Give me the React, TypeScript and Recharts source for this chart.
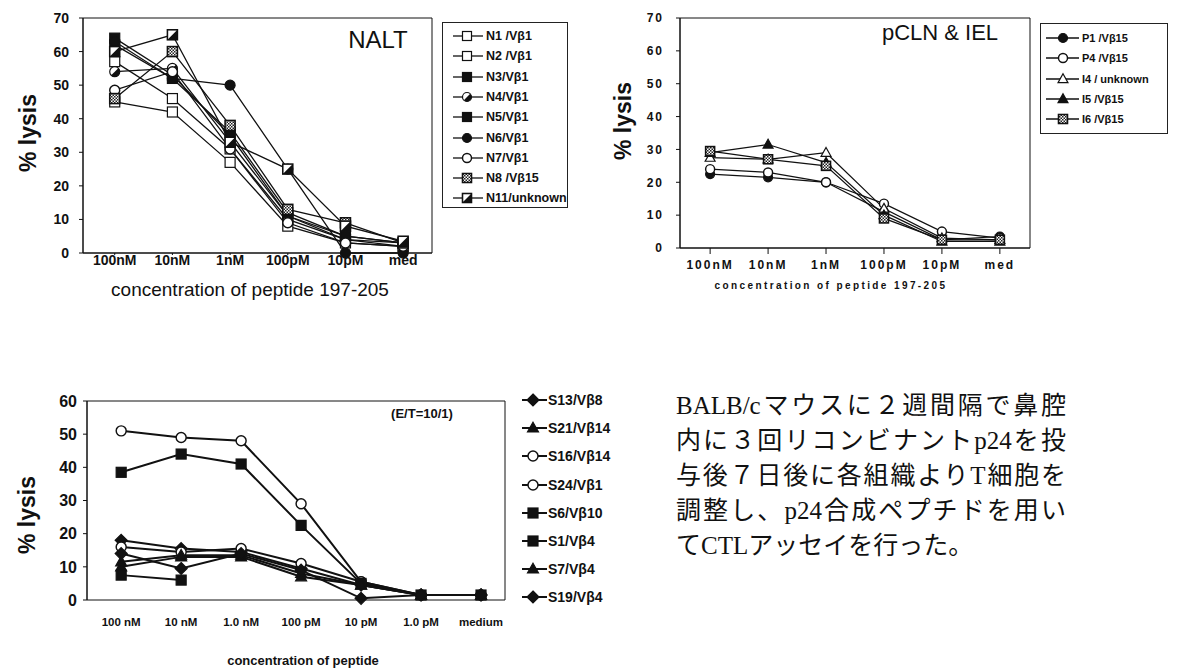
import React from "react";
import { LineChart, Line, XAxis, YAxis, ReferenceArea } from "recharts";

// ---------- data ----------
const nCategories = ["100nM", "10nM", "1nM", "100pM", "10pM", "med"];
const nTicks = [0, 10, 20, 30, 40, 50, 60, 70];
const n1 = [57, 46, 31, 10, 4, 2];
const n2 = [45, 42, 27, 8, 3, 2];
const n3 = [64, 53, 35, 11, 4, 3];
const n4 = [54, 55, 33, 11, 5, 3];
const n5 = [62, 52, 36, 12, 5, 3];
const n6 = [63, 52, 50, 25, 0, 0];
const n7 = [48.5, 54, 31, 9, 3, 2];
const n8 = [46, 60, 38, 13, 9, 3];
const n11 = [60, 65, 33, 25, 8, 3.5];

const pCategories = ["100nM", "10nM", "1nM", "100pM", "10pM", "med"];
const pTicks = [0, 10, 20, 30, 40, 50, 60, 70];
const p1 = [22.5, 21.5, 20, 11, 2.5, 3.5];
const p4 = [24, 23, 20, 13.5, 5, 3];
const i4 = [27.5, 27, 29, 12, 3, 2.5];
const i5 = [29, 31.5, 26, 10, 2, 2];
const i6 = [29.5, 27, 25, 9, 2.5, 2.5];

const sCategories = ["100 nM", "10 nM", "1.0 nM", "100 pM", "10 pM", "1.0 pM", "medium"];
const sTicks = [0, 10, 20, 30, 40, 50, 60];
const s13 = [18, 15.5, 14.5, 9.5, 4.5, 1.5, 1.5];
const s21 = [10, 13, 13, 7, 4.5, 1.5, 1.5];
const s16 = [51, 49, 48, 29, 5.5, 1.5, 1.5];
const s24 = [16, 14.5, 15.5, 11, 5.5, 1.5, 1.5];
const s6 = [38.5, 44, 41, 22.5, 5, 1.5, 1.5];
const s1 = [7.5, 6, null, null, null, null, null];
const s7 = [11.5, 13.5, 13.5, 8, 4.5, 1.5, 1.5];
const s19 = [14, 9.5, 14, 9, 0.5, 1.5, 1.5];

const jpLines = [
  "BALB/cマウスに２週間隔で鼻腔",
  "内に３回リコンビナントp24を投",
  "与後７日後に各組織よりT細胞を",
  "調整し、p24合成ペプチドを用い",
  "てCTLアッセイを行った。",
];

type Series = { key: string; name: string; shape: string; values: (number | null)[] };

const nSeries: Series[] = [
  { key: "n1", name: "N1 /Vβ1", shape: "openSquare", values: n1 },
  { key: "n2", name: "N2 /Vβ1", shape: "openSquare", values: n2 },
  { key: "n3", name: "N3/Vβ1", shape: "filledSquare", values: n3 },
  { key: "n4", name: "N4/Vβ1", shape: "halfCircle", values: n4 },
  { key: "n5", name: "N5/Vβ1", shape: "filledSquare", values: n5 },
  { key: "n6", name: "N6/Vβ1", shape: "filledCircle", values: n6 },
  { key: "n7", name: "N7/Vβ1", shape: "openCircle", values: n7 },
  { key: "n8", name: "N8 /Vβ15", shape: "checkSquare", values: n8 },
  { key: "n11", name: "N11/unknown", shape: "diagSquare", values: n11 },
];

const pSeries: Series[] = [
  { key: "p1", name: "P1 /Vβ15", shape: "filledCircle", values: p1 },
  { key: "p4", name: "P4 /Vβ15", shape: "openCircle", values: p4 },
  { key: "i4", name: "I4 / unknown", shape: "openTriangle", values: i4 },
  { key: "i5", name: "I5 /Vβ15", shape: "filledTriangle", values: i5 },
  { key: "i6", name: "I6 /Vβ15", shape: "checkSquare", values: i6 },
];

const sSeries: Series[] = [
  { key: "s13", name: "S13/Vβ8", shape: "diamond", values: s13 },
  { key: "s21", name: "S21/Vβ14", shape: "filledTriangle", values: s21 },
  { key: "s16", name: "S16/Vβ14", shape: "openCircle", values: s16 },
  { key: "s24", name: "S24/Vβ1", shape: "openCircle", values: s24 },
  { key: "s6", name: "S6/Vβ10", shape: "filledSquare", values: s6 },
  { key: "s1", name: "S1/Vβ4", shape: "filledSquare", values: s1 },
  { key: "s7", name: "S7/Vβ4", shape: "filledTriangle", values: s7 },
  { key: "s19", name: "S19/Vβ4", shape: "diamond", values: s19 },
];

const buildRows = (cats: string[], series: Series[]) =>
  cats.map((c, i) => {
    const row: any = { i, c };
    series.forEach((s) => (row[s.key] = s.values[i]));
    return row;
  });

const nRows = buildRows(nCategories, nSeries);
const pRows = buildRows(pCategories, pSeries);
const sRows = buildRows(sCategories, sSeries);

// ---------- styles ----------
const SANS = '"Liberation Sans", Arial, Helvetica, sans-serif';
const INK = "#111";

function Marker({ cx, cy, shape, r }: { cx: number; cy: number; shape: string; r: number }) {
  if (cx == null || cy == null || isNaN(cx) || isNaN(cy)) return <g />;
  const sw = 1.2;
  const a = r * 0.7071;
  switch (shape) {
    case "openSquare":
      return <rect x={cx - r} y={cy - r} width={2 * r} height={2 * r} fill="#fff" stroke={INK} strokeWidth={sw} />;
    case "filledSquare":
      return <rect x={cx - r} y={cy - r} width={2 * r} height={2 * r} fill={INK} stroke={INK} strokeWidth={sw} />;
    case "checkSquare":
      return <rect x={cx - r} y={cy - r} width={2 * r} height={2 * r} fill="url(#chk)" stroke={INK} strokeWidth={sw * 1.3} />;
    case "diagSquare":
      return (
        <g>
          <rect x={cx - r} y={cy - r} width={2 * r} height={2 * r} fill="#fff" stroke={INK} strokeWidth={sw * 1.3} />
          <polygon points={`${cx - r},${cy + r} ${cx + r},${cy - r} ${cx + r},${cy + r}`} fill={INK} />
        </g>
      );
    case "openCircle":
      return <circle cx={cx} cy={cy} r={r} fill="#fff" stroke={INK} strokeWidth={sw * 1.2} />;
    case "filledCircle":
      return <circle cx={cx} cy={cy} r={r} fill={INK} stroke={INK} strokeWidth={sw} />;
    case "halfCircle":
      return (
        <g>
          <circle cx={cx} cy={cy} r={r} fill="#fff" stroke={INK} strokeWidth={sw} />
          <path d={`M ${cx + a} ${cy - a} A ${r} ${r} 0 0 1 ${cx - a} ${cy + a} Z`} fill={INK} />
        </g>
      );
    case "openTriangle":
      return (
        <polygon
          points={`${cx},${cy - r * 1.15} ${cx + r * 1.1},${cy + r * 0.8} ${cx - r * 1.1},${cy + r * 0.8}`}
          fill="#fff"
          stroke={INK}
          strokeWidth={sw}
        />
      );
    case "filledTriangle":
      return (
        <polygon
          points={`${cx},${cy - r * 1.15} ${cx + r * 1.1},${cy + r * 0.8} ${cx - r * 1.1},${cy + r * 0.8}`}
          fill={INK}
          stroke={INK}
          strokeWidth={sw}
        />
      );
    case "diamond":
      return (
        <polygon
          points={`${cx},${cy - r * 1.2} ${cx + r * 1.2},${cy} ${cx},${cy + r * 1.2} ${cx - r * 1.2},${cy}`}
          fill={INK}
          stroke={INK}
          strokeWidth={sw}
        />
      );
    default:
      return <g />;
  }
}

function Legend({
  items,
  left,
  top,
  width,
  height,
  box,
  firstRow,
  rowH,
  lineX1,
  lineX2,
  markX,
  textX,
  fontSize,
  r,
  lineW,
}: any) {
  return (
    <div
      style={{
        position: "absolute",
        left,
        top,
        width,
        height,
        border: box ? "1px solid #222" : "none",
        boxSizing: "border-box",
      }}
    >
      {items.map((s: Series, k: number) => {
        const cy = firstRow + k * rowH;
        return (
          <div key={s.key} style={{ position: "absolute", left: 0, top: cy - 9, height: 18, width: "100%" }}>
            <svg width={textX} height={18} style={{ position: "absolute", left: 0, top: 0, overflow: "visible" }}>
              <line x1={lineX1} x2={lineX2} y1={9} y2={9} stroke={INK} strokeWidth={lineW} />
              <Marker cx={markX} cy={9} shape={s.shape} r={r} />
            </svg>
            <span
              style={{
                position: "absolute",
                left: textX,
                top: 0,
                lineHeight: "18px",
                fontFamily: SANS,
                fontWeight: 700,
                fontSize,
                whiteSpace: "nowrap",
                color: INK,
              }}
            >
              {s.name}
            </span>
          </div>
        );
      })}
    </div>
  );
}

function RotLabel({ cx, cy, text, size }: any) {
  return (
    <div
      style={{
        position: "absolute",
        left: cx,
        top: cy,
        transform: "translate(-50%, -50%) rotate(-90deg)",
        fontFamily: SANS,
        fontWeight: 700,
        fontSize: size,
        whiteSpace: "nowrap",
        color: INK,
      }}
    >
      {text}
    </div>
  );
}

function Abs({ cx, cy, text, style }: any) {
  return (
    <div
      style={{
        position: "absolute",
        left: cx,
        top: cy,
        transform: "translate(-50%, -50%)",
        fontFamily: SANS,
        whiteSpace: "nowrap",
        color: INK,
        ...style,
      }}
    >
      {text}
    </div>
  );
}

const lines = (series: Series[], r: number, width: number, xAxisId?: string) =>
  series.map((s) => (
    <Line
      key={s.key}
      dataKey={s.key}
      xAxisId={xAxisId || 0}
      stroke={INK}
      strokeWidth={width}
      isAnimationActive={false}
      connectNulls={false}
      activeDot={false}
      dot={(p: any) => <Marker key={`${s.key}-${p.index}`} cx={p.cx} cy={p.cy} shape={s.shape} r={r} />}
    />
  ));

export default function App() {
  const nDom = [-0.55, 5.5];
  const pDom = [-0.52, 5.52];
  const sDom = [-0.57, 6.4];
  const nTick = { fontFamily: SANS, fontWeight: 700, fontSize: 14, fill: INK };
  const pTick = { fontFamily: SANS, fontWeight: 700, fontSize: 12, fill: INK, letterSpacing: 2 };
  return (
    <div style={{ position: "absolute", left: 0, top: 0, width: 1179, height: 672, background: "#fff", overflow: "hidden" }}>
      <svg width={0} height={0} style={{ position: "absolute" }}>
        <defs>
          <pattern id="chk" width="3" height="3" patternUnits="userSpaceOnUse">
            <rect width="3" height="3" fill="#fff" />
            <rect width="1.5" height="1.5" fill="#222" />
            <rect x="1.5" y="1.5" width="1.5" height="1.5" fill="#222" />
          </pattern>
        </defs>
      </svg>

      {/* ---------- NALT ---------- */}
      <div style={{ position: "absolute", left: 0, top: 0 }}>
        <LineChart width={450} height={300} data={nRows} margin={{ top: 18, right: 18, left: 23, bottom: 17 }}>
          <XAxis
            type="number"
            dataKey="i"
            domain={nDom}
            ticks={[0, 1, 2, 3, 4, 5]}
            interval={0}
            tickFormatter={(v: number) => nCategories[v]}
            tick={nTick}
            tickSize={2}
            tickMargin={0}
            height={30}
            stroke={INK}
            allowDataOverflow
          />
          <YAxis
            type="number"
            domain={[0, 70]}
            ticks={nTicks}
            interval={0}
            tick={nTick}
            tickSize={4}
            tickMargin={10}
            width={60}
            stroke={INK}
          />
          <ReferenceArea x1={nDom[0]} x2={nDom[1]} y1={0} y2={70} fill="none" stroke={INK} strokeWidth={1} />
          {lines(nSeries, 5, 1.3)}
        </LineChart>
      </div>
      <Abs cx={378} cy={40} text="NALT" style={{ fontSize: 24 }} />
      <RotLabel cx={28} cy={133} text="% lysis" size={23} />
      <Abs cx={250} cy={290} text="concentration of peptide 197-205" style={{ fontSize: 19 }} />
      <Legend
        items={nSeries}
        left={442}
        top={22}
        width={126}
        height={186}
        box
        firstRow={13}
        rowH={20.3}
        lineX1={10}
        lineX2={40}
        markX={24}
        textX={43}
        fontSize={12.5}
        r={4.5}
        lineW={1.3}
      />

      {/* ---------- pCLN & IEL ---------- */}
      <div style={{ position: "absolute", left: 590, top: 0 }}>
        <LineChart width={450} height={300} data={pRows} margin={{ top: 18, right: 10, left: 30, bottom: 22 }}>
          <XAxis
            type="number"
            dataKey="i"
            domain={pDom}
            ticks={[0, 1, 2, 3, 4, 5]}
            interval={0}
            tickFormatter={(v: number) => pCategories[v]}
            tick={pTick}
            tickSize={6}
            tickMargin={6}
            height={30}
            stroke={INK}
            allowDataOverflow
          />
          <YAxis
            type="number"
            domain={[0, 70]}
            ticks={pTicks}
            interval={0}
            tick={pTick}
            tickSize={4}
            tickMargin={12}
            width={60}
            stroke={INK}
          />
          <ReferenceArea x1={pDom[0]} x2={pDom[1]} y1={0} y2={70} fill="none" stroke={INK} strokeWidth={1} />
          {lines(pSeries, 4.5, 1.2)}
        </LineChart>
      </div>
      <Abs cx={940} cy={33} text="pCLN & IEL" style={{ fontSize: 22 }} />
      <RotLabel cx={623} cy={121} text="% lysis" size={23} />
      <Abs
        cx={831}
        cy={285}
        text="concentration of peptide 197-205"
        style={{ fontSize: 10, fontWeight: 700, letterSpacing: 2.4 }}
      />
      <Legend
        items={pSeries}
        left={1040}
        top={23}
        width={128}
        height={111}
        box
        firstRow={14}
        rowH={20.3}
        lineX1={5}
        lineX2={38}
        markX={22}
        textX={41}
        fontSize={11}
        r={4.5}
        lineW={1.6}
      />

      {/* ---------- bottom chart ---------- */}
      <div style={{ position: "absolute", left: 0, top: 380 }}>
        <LineChart width={520} height={260} data={sRows} margin={{ top: 21, right: 15, left: 27, bottom: 10 }}>
          <XAxis
            xAxisId="b"
            type="number"
            dataKey="i"
            domain={sDom}
            ticks={[-0.5, 0.5, 1.5, 2.5, 3.5, 4.5, 5.5]}
            interval={0}
            tick={() => <g />}
            tickSize={4}
            height={0}
            stroke={INK}
            allowDataOverflow
          />
          <XAxis
            xAxisId="lab"
            type="number"
            dataKey="i"
            domain={sDom}
            ticks={[0, 1, 2, 3, 4, 5, 6]}
            interval={0}
            tickFormatter={(v: number) => sCategories[v]}
            tick={{ fontFamily: SANS, fontWeight: 700, fontSize: 11.5, fill: INK }}
            tickLine={false}
            axisLine={false}
            tickMargin={12}
            height={30}
            allowDataOverflow
          />
          <YAxis
            type="number"
            domain={[0, 60]}
            ticks={sTicks}
            interval={0}
            tick={{ fontFamily: SANS, fontWeight: 700, fontSize: 16, fill: INK }}
            tickSize={4}
            tickMargin={6}
            width={60}
            stroke={INK}
          />
          <ReferenceArea xAxisId="lab" x1={sDom[0]} x2={sDom[1]} y1={0} y2={60} fill="none" stroke={INK} strokeWidth={1} />
          {lines(sSeries, 5, 2, "lab")}
        </LineChart>
      </div>
      <RotLabel cx={27} cy={515} text="% lysis" size={23} />
      <Abs cx={422} cy={413} text="(E/T=10/1)" style={{ fontSize: 13, fontWeight: 700 }} />
      <Abs cx={303} cy={660} text="concentration of peptide" style={{ fontSize: 13, fontWeight: 700 }} />
      <Legend
        items={sSeries}
        left={515}
        top={380}
        width={140}
        height={240}
        box={false}
        firstRow={20}
        rowH={28.2}
        lineX1={7}
        lineX2={32}
        markX={18}
        textX={33}
        fontSize={14}
        r={5}
        lineW={2}
      />

      {/* ---------- Japanese text ---------- */}
      {jpLines.map((t, k) => (
        <div
          key={k}
          style={{
            position: "absolute",
            left: 676,
            top: 405 - 17.5 + 35 * k,
            width: 390,
            height: 35,
            lineHeight: "35px",
            fontSize: 25,
            fontFamily: '"Liberation Serif", "Noto Sans CJK JP", serif',
            textAlign: k < jpLines.length - 1 ? "justify" : "left",
            textAlignLast: k < jpLines.length - 1 ? "justify" : "left",
            whiteSpace: "nowrap",
            color: INK,
          }}
        >
          {t}
        </div>
      ))}
    </div>
  );
}
